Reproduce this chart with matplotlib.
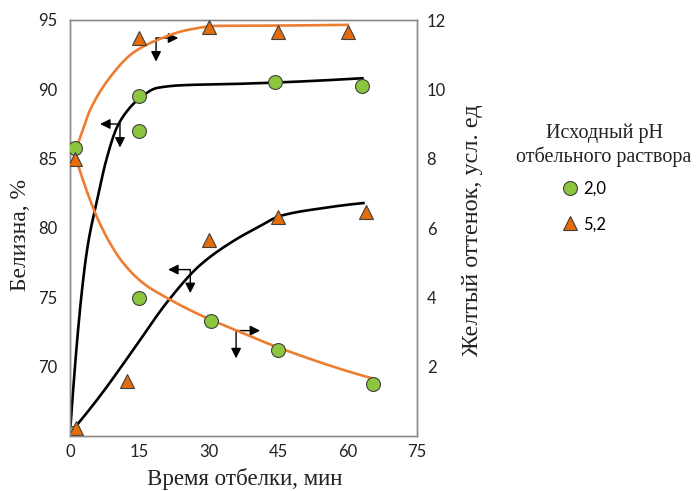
import numpy as np
import matplotlib
matplotlib.use('Agg')
import matplotlib.pyplot as plt
from matplotlib.lines import Line2D

# measured points, pH 2,0 (circles) and pH 5,2 (triangles)
circ_bright_t = [0.5, 15, 15, 44.4, 63.2]
circ_bright = [65.2, 89.5, 87.0, 90.5, 90.25]
circ_yellow_t = [1.0, 15, 30.5, 45, 65.4]
circ_yellow = [8.3, 3.98, 3.31, 2.48, 1.49]
tri_bright_t = [1.2, 12.3, 30, 45, 63.9]
tri_bright = [65.6, 69.0, 79.1, 80.8, 81.15]
tri_yellow_t = [1.0, 15, 30, 45, 60]
tri_yellow = [7.99, 11.48, 11.8, 11.65, 11.65]

# fitted curves
bl_hi_t = [0, 3.68, 5.85, 8.0, 10.2, 13.0, 15.2, 18.8, 24.5, 36.8, 63.2]
bl_hi = [65.2, 78.4, 82.0, 85.1, 87.3, 88.7, 89.4, 90.1, 90.3, 90.4, 90.8]
bl_lo_t = [0, 6.49, 13.64, 21.0, 28.14, 35.3, 40.7, 45.45, 54.76, 63.42]
bl_lo = [65.2, 67.89, 71.2, 74.66, 77.33, 79.06, 80.07, 80.87, 81.44, 81.8]
or_hi_t = [0.87, 2.16, 4.33, 8.66, 13.6, 18.8, 25.3, 31.8, 45.5, 60.0]
or_hi = [8.1, 8.6, 9.4, 10.35, 11.05, 11.42, 11.71, 11.83, 11.84, 11.86]
or_lo_t = [0.87, 2.81, 5.84, 8.66, 11.5, 15.8, 21.0, 28.14, 36.8, 45.45, 66.0]
or_lo = [8.19, 7.38, 6.31, 5.56, 4.99, 4.41, 3.98, 3.49, 3.0, 2.53, 1.64]

# axis pointers: corner (t, %), horizontal tip t, vertical tip %
pointers = [(10.8, 87.5, 6.5, 85.8), (18.6, 93.7, 23.4, 92.0),
            (26.0, 77.0, 21.2, 75.3), (35.9, 72.6, 41.1, 70.6)]

GREEN = '#8cc63f'
ORANGE = '#e46c0a'
LINE_OR = '#ed7d31'


def pchip(xs, ys, n=400):
    # shape preserving cubic through the read-off points (smoothed line look)
    x = np.asarray(xs, float)
    y = np.asarray(ys, float)
    h = np.diff(x)
    d = np.diff(y) / h
    m = np.zeros_like(y)
    for k in range(1, len(x) - 1):
        if d[k - 1] * d[k] > 0:
            w1 = 2 * h[k] + h[k - 1]
            w2 = h[k] + 2 * h[k - 1]
            m[k] = (w1 + w2) / (w1 / d[k - 1] + w2 / d[k])
    for k, (a, b, ha, hb) in ((0, (d[0], d[1], h[0], h[1])), (-1, (d[-1], d[-2], h[-1], h[-2]))):
        e = ((2 * ha + hb) * a - ha * b) / (ha + hb)
        if e * a <= 0:
            e = 0
        elif a * b < 0 and abs(e) > abs(3 * a):
            e = 3 * a
        m[k] = e
    xx = np.linspace(x[0], x[-1], n)
    i = np.clip(np.searchsorted(x, xx) - 1, 0, len(h) - 1)
    t = (xx - x[i]) / h[i]
    yy = ((2 * t ** 3 - 3 * t ** 2 + 1) * y[i] + (t ** 3 - 2 * t ** 2 + t) * h[i] * m[i]
          + (-2 * t ** 3 + 3 * t ** 2) * y[i + 1] + (t ** 3 - t ** 2) * h[i] * m[i + 1])
    return xx, yy


fig = plt.figure(figsize=(6.96, 4.91), dpi=100)
ax = fig.add_axes([70 / 696, 1 - 436 / 491, 347 / 696, 416 / 491])
ax2 = ax.twinx()

ax.set_xlim(0, 75)
ax.set_ylim(65, 95)
ax2.set_ylim(0, 12)

ax.plot(*pchip(bl_hi_t, bl_hi), color='black', lw=1.9, zorder=2)
ax.plot(*pchip(bl_lo_t, bl_lo), color='black', lw=1.9, zorder=2)
ax2.plot(*pchip(or_hi_t, or_hi), color=LINE_OR, lw=1.9, zorder=2)
ax2.plot(*pchip(or_lo_t, or_lo), color=LINE_OR, lw=1.9, zorder=2)

mk = dict(markersize=10, markeredgecolor='#404040', markeredgewidth=0.8, linestyle='none', zorder=4)
ax.plot(circ_bright_t, circ_bright, 'o', markerfacecolor=GREEN, **mk)
ax2.plot(circ_yellow_t, circ_yellow, 'o', markerfacecolor=GREEN, **mk)
ax.plot(tri_bright_t, tri_bright, '^', markerfacecolor=ORANGE, **mk)
ax2.plot(tri_yellow_t, tri_yellow, '^', markerfacecolor=ORANGE, **mk)

for cx, cy, hx, vy in pointers:
    ap = dict(arrowstyle='-|>,head_length=0.6,head_width=0.3', color='black', lw=1.0,
              shrinkA=0, shrinkB=0)
    ax.annotate('', xy=(hx, cy), xytext=(cx, cy), arrowprops=ap, zorder=5)
    ax.annotate('', xy=(cx, vy), xytext=(cx, cy), arrowprops=ap, zorder=5)

ax.set_xticks([0, 15, 30, 45, 60, 75])
ax.set_yticks([70, 75, 80, 85, 90, 95])
ax2.set_yticks([2, 4, 6, 8, 10, 12])
ax.tick_params(axis='y', length=0, pad=9, labelsize=12, labelcolor='#222222')
ax.tick_params(axis='x', length=0, pad=6, labelsize=12, labelcolor='#222222')
ax2.tick_params(axis='y', length=0, pad=7, labelsize=12, labelcolor='#222222')
for a in (ax, ax2):
    for lab in a.get_xticklabels() + a.get_yticklabels():
        lab.set_family('Lato')
    for s in a.spines.values():
        s.set_color('#8c8c8c')
        s.set_linewidth(1.0)

serif = dict(family='Liberation Serif', color='#222222')
ax.set_xlabel('Время отбелки, мин', va='center', fontsize=16.5, **serif)
ax.xaxis.set_label_coords(0.504, -0.103)
ax.set_ylabel('Белизна, %', va='center', fontsize=17, **serif)
ax.yaxis.set_label_coords(-0.144, 0.483)
ax2.set_ylabel('Желтый оттенок, усл. ед', va='center', fontsize=17.5, **serif)
ax2.yaxis.set_label_coords(1.16, 0.495)

fig.text(604 / 696, 1 - 145 / 491, 'Исходный pH\nотбельного раствора', ha='center', va='center',
         multialignment='center', family='Liberation Serif', fontsize=14.5, color='#222222',
         linespacing=1.25)
handles = [Line2D([], [], marker='o', markerfacecolor=GREEN, **mk),
           Line2D([], [], marker='^', markerfacecolor=ORANGE, **mk)]
fig.legend(handles, ['2,0', '5,2'], loc='upper left', bbox_to_anchor=(562 / 696, 1 - 181 / 491),
           frameon=False, borderpad=0, borderaxespad=0, labelspacing=1.15, handlelength=1.0,
           handletextpad=0.25, prop={'family': 'Lato', 'size': 12})

fig.savefig('out.png', dpi=100)
